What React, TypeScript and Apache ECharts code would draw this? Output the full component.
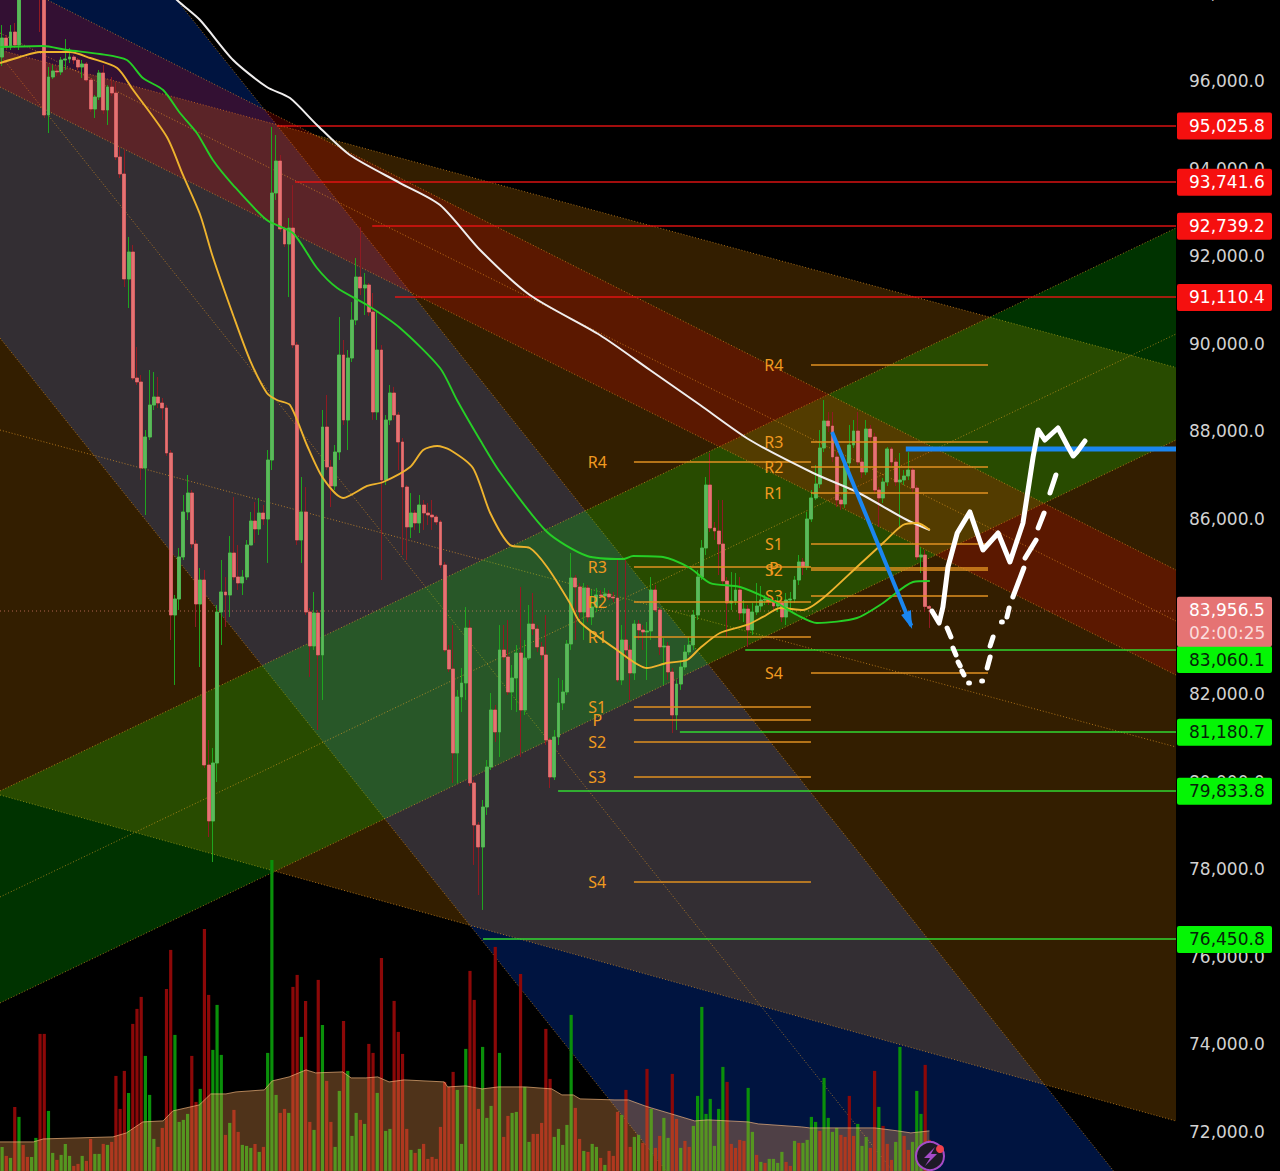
import React, { useEffect, useRef } from "react";
import * as echarts from "echarts";

const closes = [96981,96776,97118,96821,98077,98534,98420,98648,98762,98192,95223,96091,96228,96205,96479,96502,96547,96479,96319,96388,96022,95360,95634,96182,95337,95862,95725,94264,93876,91478,92094,89217,89126,87162,87870,88600,88783,88646,88532,87504,83805,84170,85129,86157,86591,85426,84056,84604,80379,79101,80425,83873,84330,84262,85221,84673,84536,84673,85403,85951,85769,86134,85997,87344,93442,94172,92620,92277,92642,89971,85518,86157,83873,83097,83850,82892,88098,87185,86751,87527,89742,88258,89674,90541,91523,91272,91341,90724,88441,89856,86888,88258,88875,88372,87756,86728,85815,86134,85906,86317,86134,86088,86043,85929,84947,83006,82572,80654,81933,82252,83508,79969,79009,78507,79420,80334,81635,81133,83006,82846,82047,82366,82937,81635,82823,83599,83485,83074,82892,80950,80105,81019,81795,82047,83143,84650,84444,83873,84421,83759,83988,84262,84239,84284,84216,84193,82321,83234,83006,82480,83599,83462,83417,83440,84376,83919,83074,83097,82503,81521,82229,82617,82960,83120,83805,84673,85335,86773,85791,85723,85426,84581,84079,84124,84376,83850,83941,83462,83873,84010,84147,84170,84124,84010,84079,83759,84147,84170,84604,85015,84901,85997,86477,86797,87619,88235,88121,87413,86431,86340,87276,87687,88007,87299,87070,88052,87870,86659,86477,86843,87596,87299,86843,86888,86979,87116,86705,85129,85175,84000,83956.5];
const highs = [97278,97050,97278,97324,98306,98900,98750,98900,99000,98877,98306,96319,96365,96296,96547,96958,96753,96593,96525,96479,96433,96068,95680,96250,96365,95908,96091,95976,94492,94424,92437,92254,89925,89285,88029,89400,89354,89240,88760,88600,87573,84262,85335,86545,87002,86659,85517,84878,84832,80950,80767,84033,85061,84672,85609,86499,85403,84832,85517,86157,86385,86476,86317,87573,94949,94766,94310,92689,92871,93624,90039,86956,86727,83965,84330,83919,88486,88829,87345,87687,90610,90085,89856,90952,91957,92665,91615,91387,91158,90770,89970,88372,89057,89013,88441,87847,86773,86590,86203,86545,86431,86362,86431,86088,85974,85015,83120,83576,82093,82595,83987,83690,80036,79078,79580,80494,82024,81750,83576,83576,83690,82663,83120,84444,83234,84033,84307,83576,83188,83804,80996,81179,82366,82320,83234,85221,84718,84536,84536,84490,84376,84421,84376,84421,84376,84330,85061,83576,85061,83120,83690,83690,83576,83645,84672,84490,83965,83280,83188,82594,82321,82777,83120,83303,83919,84833,85517,86956,87504,85929,86431,86431,84672,84786,84764,84672,84147,84033,84078,84535,84467,84261,84261,84193,84216,84147,84307,84330,84695,85175,85106,86157,86660,87230,88029,88714,88441,88441,87527,86500,87391,88144,88258,88441,87391,88258,88144,87961,86728,86934,87641,87641,87390,87504,87116,87527,87162,86774,85358,85289,84033];
const lows = [96342,96707,96707,96753,96707,98300,98250,98350,98500,97118,95155,94812,96045,96113,96136,96250,96410,96387,96250,96068,95976,95291,95154,95565,95246,94995,95657,94195,93784,91295,90815,89171,89057,86888,86088,87801,88486,88532,88258,87436,83234,82207,83919,85061,85974,85335,83530,82617,80311,78735,78164,79991,83120,83530,83758,84604,84376,84261,84604,85860,85449,85632,85860,84993,87116,93282,92551,92208,91066,89902,85403,84993,83805,82389,83006,81179,81864,87116,86271,86659,87344,88144,87573,89582,90427,91112,90656,90633,88258,88258,84603,86774,88144,88258,87116,85175,85061,85563,85746,85677,85746,85860,85746,85860,84878,82960,82503,79968,79968,81590,81864,79900,78096,77410,77069,79238,80265,80905,80562,82777,81978,81635,81590,80562,81521,82777,83348,82960,82777,80836,79854,80037,80836,81635,81978,83006,83234,83736,83234,83645,83576,83872,84147,84147,84147,84102,82275,82207,82777,81864,82321,83234,83006,82321,83234,83873,82892,82207,82321,81110,81179,82093,82549,82892,83006,83690,84604,85175,85700,85518,84718,84512,83303,83919,84033,83690,83645,83074,83348,83805,83919,84033,84033,83873,83873,83645,83576,83919,84079,84490,84718,84833,85929,86431,86705,87527,87984,87299,86271,86203,86249,87116,87619,87230,86933,87002,87756,86568,85814,86362,86751,87207,86751,85791,86774,86888,86614,85061,84764,83873,83508];
const firstOpen = 96547;

const volumes = [24,15,13,64,54,26,14,14,33,137,137,60,18,11,16,27,15,5,7,15,10,32,17,17,27,26,29,95,62,100,78,147,162,174,115,76,32,24,43,182,221,136,49,51,57,115,69,82,242,176,121,166,116,36,48,61,39,26,25,23,27,19,24,118,311,76,58,62,58,184,196,134,170,49,41,191,146,90,49,24,80,150,100,35,58,51,47,127,118,78,213,40,42,170,139,117,42,21,18,22,27,12,14,12,44,89,84,99,81,27,122,200,171,62,124,53,65,224,118,34,55,58,59,197,84,29,37,37,48,142,92,34,42,26,46,156,63,32,20,19,27,24,13,6,20,15,59,56,81,24,34,36,28,102,62,23,35,53,33,97,52,23,30,24,45,75,164,57,72,25,62,104,89,27,23,31,30,83,39,16,9,8,12,12,8,19,9,5,30,28,28,31,54,49,40,93,53,39,43,36,34,75,35,47,25,34,23,100,64,45,27,11,29,124,35,21,29,80,57,106,31];
const volumeSides = "grgrgrrggrrggrgggrrgrrggrgrrrrgrrrgggrrrrggggrrgrrgggrgrrgggrgrgggrrgrrgrrgrgrrggrgggrgrrgrggrrrrgrgrrrrrrrrgggrrrgggrgrrggrggrrrrrgggggrrgrggrgrrrgrrggrrgrrggrrgrrggggggggrrrrrggrgrggggrrgrggggrggggrrrrgggrrgrrrggrrgggrrgrr";
const volumeAverage: number[][] = [[-0.5,29],[7.4,29],[9.8,32],[26.3,34],[29.5,38],[33.4,49],[38.2,50],[40.5,60],[46.8,66],[49.5,77],[53.1,77],[55.5,79],[62.2,81],[64.1,90],[68.1,94],[72.1,101],[74.4,98],[80.8,99],[82.8,93],[86.3,93],[89.1,94],[91.8,89],[95.4,91],[104.9,89],[105.7,84],[110,85],[113.9,82],[114,82],[117.8,84],[124.1,84],[130.4,82],[132.8,76],[135.5,76],[137.1,72],[145.4,71],[148.6,71],[152.5,65],[154,63],[158.8,57],[164.3,50],[167.5,51],[177,49],[179.4,47],[189.6,44],[191.6,43],[207,43],[212.5,40],[215.6,38],[220,40]];

const whiteAverage: number[][] = [[38.6,98192],[41.5,97849],[46.95,97392],[54.8,96479],[62.8,95862],[68.3,95611],[74.7,94995],[82.5,94309],[94.4,93670],[103.9,93168],[113.4,92140],[125.2,91112],[141.8,90199],[153.7,89400],[165.6,88600],[177.4,87801],[192.4,87048],[202.8,86614],[214.7,85974],[220.1,85746]];
const yellowAverage: number[][] = [[-0.5,96410],[4.2,96547],[9,96662],[16.1,96662],[20.9,96525],[27.3,96296],[31.1,95794],[39.1,94720],[42.9,93853],[47,92939],[50,91980],[54.8,90656],[58.8,89628],[62.8,88875],[65.2,88715],[68.3,88600],[72.3,87687],[76.1,86933],[80.9,86477],[86.6,86751],[90.4,86842],[96.8,87185],[99.9,87573],[103.2,87664],[106.3,87573],[111.7,87162],[115.8,86134],[120.5,85403],[125.2,85335],[129.3,84901],[134.7,84079],[137.1,83645],[145.9,83006],[153,82595],[157.7,82709],[162.5,82777],[165.6,83052],[170.3,83394],[176.7,83577],[180.5,83760],[184.6,83965],[190,83919],[194.8,84193],[202.8,84901],[209,85449],[213.7,85860],[217.1,85906],[220.1,85746]];
const greenAverage: number[][] = [[-0.5,96776],[9.7,96799],[15.4,96707],[23.2,96616],[29.6,96479],[33.4,96068],[38.2,95794],[42.2,95269],[46.2,94812],[50,94195],[54.8,93624],[62.8,92825],[69,92528],[74.7,91729],[79.5,91272],[86.6,90884],[94.4,90359],[103.9,89445],[107.9,88715],[113.4,87801],[118.1,87070],[129.3,85700],[138.8,85152],[147.3,85083],[149.7,85152],[156.8,85129],[163.2,84878],[168,84535],[175.1,84444],[183.8,84079],[188.6,83805],[193.3,83622],[202.8,83736],[209,84079],[216.1,84558],[220.1,84581]];

// Channels: [price at left edge, price at right edge] of upper edge, middle, lower edge
const axisLeft = -0.5;
const axisRight = 278.5;
const bandFills = ["rgba(0,80,255,0.25)", "rgba(255,152,0,0.2)", "rgba(0,255,0,0.2)", "rgba(255,0,0,0.2)"];
const bandUpper = [[102896, 69327], [96707, 89457], [79786, 92642], [98397, 84832]];
const bandMiddle = [[96593, 63024], [88029, 80791], [77365, 90222], [97095, 83668]];
const bandLower = [[90130, 56562], [79694, 72249], [74945, 87801], [95862, 82434]];

const levelPrices = [95025.8, 93741.6, 92739.2, 91110.4, 83060.1, 81180.7, 79833.8, 76450.8];
const levelStarts = [65.2, 69.5, 87.8, 93.2, 176.3, 160.8, 131.9, 114.1];
const levelKinds = ["r", "r", "r", "r", "g", "g", "g", "g"];
const tagNudges = [0, 0, 0, 0, 9.5, 0, 0, 0];
const currentPrice = 83956.5;
const countdown = "02:00:25";

const pivotNames = ["R4", "R3", "R2", "R1", "S1", "P", "S2", "S3", "S4"];
const pivotsA = [87299, 84901, 84102, 83302, 81704, 81407, 80905, 80106, 77708];
const pivotsB = [89514, 87756, 87185, 86591, 85426, 84878, 84832, 84239, 82480];
const pivotRangeA = [149.9, 191.9, 141.2];
const pivotRangeB = [191.9, 233.9, 183.1];

const tickFormat = (v: number) => v.toLocaleString("en-US", { minimumFractionDigits: 1, maximumFractionDigits: 1 });

const drawnCurve: number[][] = [[220.6,83896],[222.3,83622],[223.2,83988],[224.4,84901],[226.6,85677],[229.6,86157],[232.7,85289],[236.3,85677],[239.1,85015],[242.2,85906],[244.6,87413],[245.8,88029],[247.4,87801],[250.5,88075],[252.9,87641],[254.1,87436],[255,87527],[256.9,87778]];
const drawnDashes: number[][][] = [[[224.2,83508],[225.1,83303]],[[225.6,83051],[226.3,82892]],[[226.8,82731],[227.3,82640]],[[227.7,82526],[228.2,82435]],[[229.3,82252],[229.5,82252]],[[232.4,82298],[232.6,82298]],[[233.7,82594],[234.4,82846]],[[234.4,83097],[235.1,83303]],[[237.1,83645],[237.3,83645]],[[238.4,83759],[238.9,83965]],[[239.8,84216],[242.4,84878]],[[242.7,85106],[245.3,85517]],[[245.8,85791],[247.2,86134]],[[248.6,86591],[250,87002]]];
const arrowShaft: number[][] = [[196.9,87984],[215.7,83560]];
const arrowHead: number[][] = [[215.9,83486],[213.3,83805],[215.6,83919]];
const resistanceLine: number[][] = [[214.4,87596],[278.5,87596]];

const UP = "#5cb85c";
const DOWN = "#e57373";
const UP_WICK = "#1fa51f";
const DOWN_WICK = "#8f1a22";
const LEVEL_SHIFT = 2.4; // the labelled levels sit slightly under the tick text of the price scale

export default function App() {
  const ref = useRef<HTMLDivElement>(null);
  useEffect(() => {
    document.body.style.margin = "0";
    document.body.style.background = "#000";
    document.body.style.overflow = "hidden";
    const chart = echarts.init(ref.current!, undefined, { renderer: "svg" });
    const categories = Array.from({ length: 279 }, (_, i) => String(i));
    const opens = closes.map((_, i) => (i === 0 ? firstOpen : closes[i - 1]));
    const candleFull = closes.map((c, i) => [opens[i], c, lows[i], highs[i]]);
    const candleBody = closes.map((c, i) => [opens[i], c, Math.min(opens[i], c), Math.max(opens[i], c)]);
    const volumeBars = volumes.map((v, i) => ({
      value: v,
      itemStyle: { color: volumeSides[i] === "g" ? "#0a900a" : "#8c0808" },
    }));

    const clipOverlay = { type: "custom" as const, xAxisIndex: 1, yAxisIndex: 0, clip: true, silent: true };
    const options: any = {
      animation: false,
      backgroundColor: "#000",
      tooltip: { show: false },
      grid: { left: 0, right: 104, top: -6.6, height: 1226.1, containLabel: false, outerBoundsMode: "none" },
      xAxis: [
        { type: "category", data: categories, show: false, boundaryGap: true },
        { type: "value", min: axisLeft, max: axisRight, show: false, gridIndex: 0 },
      ],
      yAxis: [
        {
          type: "value", position: "right", min: 70000, max: 98000, interval: 2000, scale: true,
          axisLine: { show: false }, axisTick: { show: false }, splitLine: { show: false },
          axisLabel: {
            show: true, showMinLabel: false, margin: 13, color: "#d2d2d2", fontSize: 17,
            fontFamily: "DejaVu Sans", formatter: tickFormat,
          },
        },
        { type: "value", min: -48.6, max: 1177.5, show: false, splitLine: { show: false } },
      ],
      graphic: [
        { type: "circle", z: 100, shape: { cx: 930, cy: 1156, r: 14 }, style: { fill: "#1e1a26", stroke: "#a64bc8", lineWidth: 2 } },
        { type: "polygon", z: 101, shape: { points: [[935, 1147], [924, 1158], [930, 1158], [925, 1166], [937, 1154], [931, 1154]] }, style: { fill: "#a64bc8" } },
        { type: "circle", z: 102, shape: { cx: 940, cy: 1149, r: 4 }, style: { fill: "#f0414b" } },
      ],
      series: [
        {
          ...clipOverlay, name: "channels", z: 1, data: bandFills.map((_, i) => [i]),
          renderItem: (params: any, api: any) => {
            const i = params.dataIndex;
            const p = (x: number, v: number) => api.coord([x, v]);
            const edge = (e: number[]) => ({
              type: "line",
              shape: (() => {
                const a = p(axisLeft, e[0]);
                const b = p(axisRight, e[1]);
                return { x1: a[0], y1: a[1], x2: b[0], y2: b[1] };
              })(),
              style: { stroke: "rgba(255,170,40,0.6)", lineWidth: 1, lineDash: [1, 2] },
            });
            return {
              type: "group",
              children: [
                {
                  type: "polygon",
                  shape: {
                    points: [
                      p(axisLeft, bandUpper[i][0]), p(axisRight, bandUpper[i][1]),
                      p(axisRight, bandLower[i][1]), p(axisLeft, bandLower[i][0]),
                    ],
                  },
                  style: { fill: bandFills[i] },
                },
                edge(bandUpper[i]), edge(bandMiddle[i]), edge(bandLower[i]),
              ],
            };
          },
        },
        {
          type: "bar", name: "volume", xAxisIndex: 0, yAxisIndex: 1, z: 2, barWidth: 3.2, silent: true,
          data: volumeBars,
        },
        {
          type: "line", name: "volume average", xAxisIndex: 1, yAxisIndex: 1, z: 3, silent: true, symbol: "none",
          data: volumeAverage, lineStyle: { color: "rgba(255,190,130,0.65)", width: 1 },
          areaStyle: { color: "rgba(255,165,85,0.44)", origin: "start" },
        },
        {
          ...clipOverlay, name: "price line", z: 3, data: [[currentPrice]],
          renderItem: (params: any, api: any) => {
            const y = Math.round(api.coord([0, currentPrice])[1] + LEVEL_SHIFT);
            return {
              type: "line",
              shape: { x1: 0, y1: y, x2: params.coordSys.x + params.coordSys.width, y2: y },
              style: { stroke: "rgba(230,130,110,0.7)", lineWidth: 1, lineDash: [1, 3] },
            };
          },
        },
        {
          ...clipOverlay, name: "level lines", z: 3, data: levelPrices.map((_, i) => [i]),
          renderItem: (params: any, api: any) => {
            const i = params.dataIndex;
            const a = api.coord([levelStarts[i], levelPrices[i]]);
            const y = Math.round(a[1] + LEVEL_SHIFT);
            return {
              type: "line",
              shape: { x1: a[0], y1: y, x2: params.coordSys.x + params.coordSys.width, y2: y },
              style: { stroke: levelKinds[i] === "r" ? "rgba(240,20,20,0.9)" : "rgba(50,225,50,0.95)", lineWidth: 1.4 },
            };
          },
        },
        {
          type: "candlestick", name: "wicks", xAxisIndex: 0, yAxisIndex: 0, z: 4, silent: true, barWidth: 3.4,
          data: candleFull,
          itemStyle: { color: UP_WICK, color0: DOWN_WICK, borderColor: UP_WICK, borderColor0: DOWN_WICK, borderWidth: 1 },
        },
        {
          type: "candlestick", name: "bodies", xAxisIndex: 0, yAxisIndex: 0, z: 4, silent: true, barWidth: 3.4,
          data: candleBody,
          itemStyle: { color: UP, color0: DOWN, borderColor: UP, borderColor0: DOWN, borderWidth: 0.6 },
        },
        { type: "line", name: "white average", xAxisIndex: 1, yAxisIndex: 0, z: 5, silent: true, symbol: "none", smooth: 0.25, data: whiteAverage, lineStyle: { color: "#f0eeee", width: 2 } },
        { type: "line", name: "yellow average", xAxisIndex: 1, yAxisIndex: 0, z: 5, silent: true, symbol: "none", smooth: 0.25, data: yellowAverage, lineStyle: { color: "#eeb32e", width: 1.9 } },
        { type: "line", name: "green average", xAxisIndex: 1, yAxisIndex: 0, z: 5, silent: true, symbol: "none", smooth: 0.25, data: greenAverage, lineStyle: { color: "#26cf26", width: 1.9 } },
        {
          ...clipOverlay, name: "pivots", z: 5, data: [...pivotNames.map((_, i) => [i]), ...pivotNames.map((_, i) => [i + 9])],
          renderItem: (params: any, api: any) => {
            const k = params.dataIndex;
            const first = k < 9;
            const i = first ? k : k - 9;
            const price = first ? pivotsA[i] : pivotsB[i];
            const range = first ? pivotRangeA : pivotRangeB;
            const a = api.coord([range[0], price]);
            const b = api.coord([range[1], price]);
            const t = api.coord([range[2], price]);
            const y = Math.round(a[1]);
            return {
              type: "group",
              children: [
                { type: "line", shape: { x1: a[0], y1: y, x2: b[0], y2: y }, style: { stroke: "#e09020", lineWidth: 1.4 } },
                {
                  type: "text",
                  style: {
                    text: pivotNames[i], x: t[0], y: t[1], align: "center", verticalAlign: "middle",
                    fill: "#f09a20", fontSize: 16, fontFamily: "Noto Sans",
                  },
                },
              ],
            };
          },
        },
        {
          ...clipOverlay, name: "drawing", z: 7, data: [[0]],
          renderItem: (_params: any, api: any) => {
            const pts = (list: number[][]) => list.map((q) => api.coord(q));
            const blue = "#1a86f0";
            return {
              type: "group",
              children: [
                { type: "polyline", shape: { points: pts(resistanceLine) }, style: { stroke: blue, lineWidth: 5, fill: "none" } },
                { type: "polyline", shape: { points: pts(arrowShaft) }, style: { stroke: blue, lineWidth: 4, fill: "none" } },
                { type: "polygon", shape: { points: pts(arrowHead) }, style: { fill: blue } },
                { type: "polyline", shape: { points: pts(drawnCurve) }, style: { stroke: "#fff", lineWidth: 5, fill: "none", lineJoin: "round", lineCap: "round" } },
                ...drawnDashes.map((d) => ({
                  type: "polyline",
                  shape: { points: pts(d) },
                  style: { stroke: "#fff", lineWidth: 5, fill: "none", lineCap: "round" },
                })),
              ],
            };
          },
        },
        {
          type: "custom", name: "price tags", xAxisIndex: 1, yAxisIndex: 0, z: 8, silent: true, clip: false,
          data: levelPrices.map((_, i) => [i]),
          renderItem: (params: any, api: any) => {
            const i = params.dataIndex;
            const y = api.coord([0, levelPrices[i]])[1] + LEVEL_SHIFT + tagNudges[i];
            const red = levelKinds[i] === "r";
            const x = params.coordSys.x + params.coordSys.width + 1;
            return {
              type: "group",
              children: [
                { type: "rect", shape: { x, y: y - 13.5, width: 95, height: 27, r: 2 }, style: { fill: red ? "#f5100f" : "#05f505" } },
                {
                  type: "text",
                  style: {
                    text: tickFormat(levelPrices[i]), x: x + 12, y, align: "left", verticalAlign: "middle",
                    fill: red ? "#fff" : "#06220a", fontSize: 17, fontFamily: "DejaVu Sans",
                  },
                },
              ],
            };
          },
        },
        {
          type: "custom", name: "current tag", xAxisIndex: 1, yAxisIndex: 0, z: 8, silent: true, clip: false,
          data: [[0]],
          renderItem: (params: any, api: any) => {
            const y = api.coord([0, currentPrice])[1] + LEVEL_SHIFT;
            const x = params.coordSys.x + params.coordSys.width + 1;
            return {
              type: "group",
              children: [
                { type: "rect", shape: { x, y: y - 14, width: 95, height: 50, r: 2 }, style: { fill: "#e57373" } },
                { type: "text", style: { text: tickFormat(currentPrice), x: x + 12, y: y - 1, align: "left", verticalAlign: "middle", fill: "#fff", fontSize: 17, fontFamily: "DejaVu Sans" } },
                { type: "text", style: { text: countdown, x: x + 12, y: y + 22, align: "left", verticalAlign: "middle", fill: "#fbdcdc", fontSize: 17, fontFamily: "DejaVu Sans" } },
              ],
            };
          },
        },
      ],
    };
    chart.setOption(options);
    return () => chart.dispose();
  }, []);
  return <div ref={ref} style={{ width: 1280, height: 1171 }} />;
}
